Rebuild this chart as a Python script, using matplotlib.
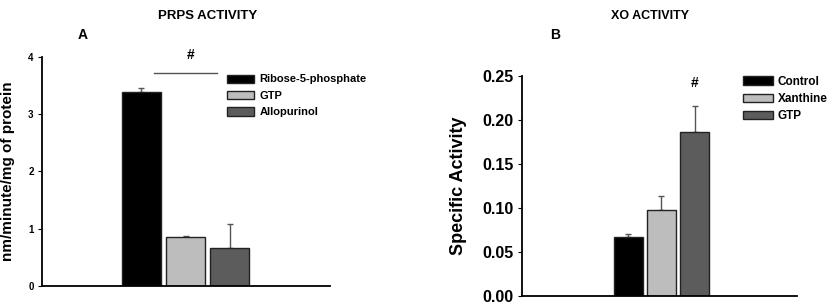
import matplotlib
matplotlib.use("Agg")
import matplotlib.pyplot as plt
from matplotlib.patches import Patch

plt.rcParams['font.family'] = ['Liberation Sans', 'DejaVu Sans']
plt.rcParams['font.weight'] = 'bold'

# Panel A data
a_labels = ["Ribose-5-phosphate", "GTP", "Allopurinol"]
a_values = [3.38, 0.86, 0.66]
a_errors = [0.08, 0.01, 0.43]
# Panel B data
b_labels = ["Control", "Xanthine", "GTP"]
b_values = [0.067, 0.098, 0.186]
b_errors = [0.003, 0.016, 0.030]
a_ticks = [0, 1, 2, 3, 4]
b_ticks = [0.00, 0.05, 0.10, 0.15, 0.20, 0.25]

colors = ["#000000", "#bdbdbd", "#5c5c5c"]

fig = plt.figure(figsize=(8.32, 3.06), dpi=100)

def draw(ax, labels, values, errors, width, xlim):
    pos = list(range(len(values)))
    for p, v, e, c in zip(pos, values, errors, colors):
        ax.bar(p, v, width=width, color=c, edgecolor="#222222", linewidth=1.0, zorder=2)
        ax.errorbar(p, v, yerr=[[0], [e]], fmt="none", ecolor="#555555",
                    elinewidth=1.0, capsize=2.5, capthick=1.0, zorder=1)
    ax.set_xlim(*xlim)
    ax.spines['top'].set_visible(False)
    ax.spines['right'].set_visible(False)
    ax.spines['left'].set_linewidth(1.3)
    ax.spines['bottom'].set_linewidth(1.3)
    ax.set_xticks([])
    handles = [Patch(facecolor=c, edgecolor="#222222", label=l) for c, l in zip(colors, labels)]
    return handles

# Panel A
axA = fig.add_axes([0.0505, 0.0654, 0.346, 0.7484])
hA = draw(axA, a_labels, a_values, a_errors, 0.886, (-2.26, 4.28))
axA.set_ylim(0, 4)
axA.set_yticks(a_ticks)
axA.set_yticklabels([str(t) for t in a_ticks], fontsize=7, fontweight='bold')
axA.tick_params(axis='y', length=3, width=0.8, pad=3)
axA.set_ylabel("nm/minute/mg of protein", fontsize=11, fontweight='bold')
axA.yaxis.set_label_coords(-0.094, 0.5)
axA.plot([0.28, 1.72], [3.72, 3.72], color="#555555", linewidth=1.0, clip_on=False)
axA.text(1.12, 4.04, "#", ha='center', va='center', fontsize=10, fontweight='bold')
axA.legend(handles=hA, loc='upper left', bbox_to_anchor=(0.628, 0.943), frameon=False,
           fontsize=8, handlelength=2.4, handleheight=0.75, labelspacing=0.58,
           handletextpad=0.5, borderaxespad=0)
fig.text(208/832, 1 - 16/306, "PRPS ACTIVITY", ha='center', va='center', fontsize=9.5, fontweight='bold')
fig.text(83/832, 1 - 35/306, "A", ha='center', va='center', fontsize=10, fontweight='bold')

# Panel B
axB = fig.add_axes([0.6274, 0.0327, 0.3305, 0.719])
hB = draw(axB, b_labels, b_values, b_errors, 0.87, (-3.19, 5.08))
axB.set_ylim(0, 0.25)
axB.set_yticks(b_ticks)
axB.set_yticklabels([f"{t:.2f}" for t in b_ticks], fontsize=11.5, fontweight='bold')
axB.tick_params(axis='y', length=3, width=0.8, pad=3)
axB.set_ylabel("Specific Activity", fontsize=13, fontweight='bold')
axB.yaxis.set_label_coords(-0.2, 0.5)
axB.text(2.0, 0.242, "#", ha='center', va='center', fontsize=10, fontweight='bold')
axB.legend(handles=hB, loc='upper left', bbox_to_anchor=(0.785, 1.023), frameon=False,
           fontsize=8.5, handlelength=2.55, handleheight=0.75, labelspacing=0.45,
           handletextpad=0.45, borderaxespad=0)
fig.text(650/832, 1 - 16/306, "XO ACTIVITY", ha='center', va='center', fontsize=9, fontweight='bold')
fig.text(555/832, 1 - 35/306, "B", ha='center', va='center', fontsize=10, fontweight='bold')

fig.savefig("out.png", dpi=100)
